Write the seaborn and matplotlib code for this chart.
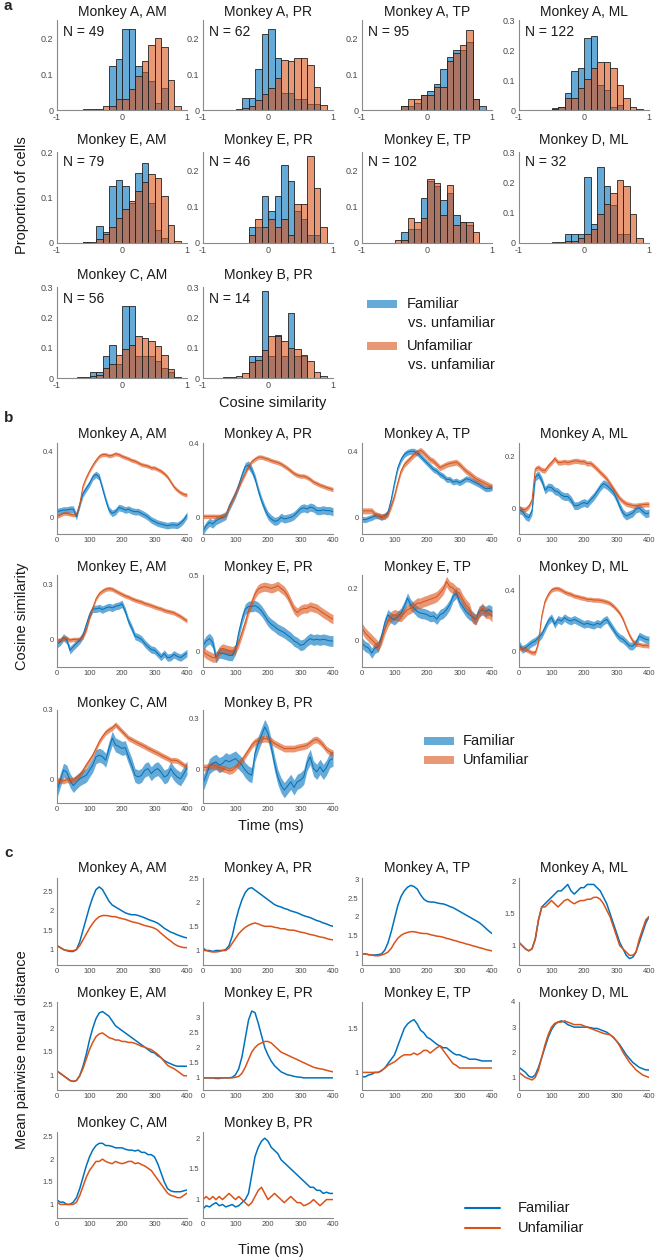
import numpy as np
import matplotlib
matplotlib.use("Agg")
import matplotlib.pyplot as plt
import seaborn as sns
from matplotlib.patches import Rectangle
from matplotlib.lines import Line2D

sns.set_theme(style="white")
plt.rcParams["font.family"] = ["Liberation Sans", "DejaVu Sans"]
plt.rcParams["axes.unicode_minus"] = False

# ------------------------------------------------------------------ data
titles_row = [["Monkey A, AM", "Monkey A, PR", "Monkey A, TP", "Monkey A, ML"],
              ["Monkey E, AM", "Monkey E, PR", "Monkey E, TP", "Monkey D, ML"],
              ["Monkey C, AM", "Monkey B, PR"]]
n_cells = [[49, 62, 95, 122], [79, 46, 102, 32], [56, 14]]

# histogram bins: left edges -1.0 ... 0.9 (width 0.1)
hist_edges = [-1.0, -0.9, -0.8, -0.7, -0.6, -0.5, -0.4, -0.3, -0.2, -0.1, 0.0,
              0.1, 0.2, 0.3, 0.4, 0.5, 0.6, 0.7, 0.8, 0.9, 1.0]

h_A_AM_fam = [0, 0, 0, 0, 0, 0, 0, 0, .123, .143, .225, .225, .122, .105, .08, .02, .06, 0, 0, 0]
h_A_AM_unf = [0, 0, 0, 0, .002, .002, .004, .01, .01, .03, .03, .058, .094, .135, .18, .2, .175, .083, .011, 0]
h_A_PR_fam = [0, 0, 0, 0, 0, 0, .032, .032, .113, .21, .226, .145, .048, .048, .03, .03, .016, .016, 0, 0]
h_A_PR_unf = [0, 0, 0, 0, 0, .003, .005, .01, .028, .044, .062, .09, .139, .137, .145, .145, .124, .065, .014, 0]
h_A_TP_fam = [0, 0, 0, 0, 0, 0, .01, .01, .02, .042, .054, .073, .115, .148, .168, .168, .19, .03, .01, 0]
h_A_TP_unf = [0, 0, 0, 0, 0, 0, .01, .03, .03, .042, .042, .063, .063, .137, .157, .18, .222, .03, 0, 0]
h_A_ML_fam = [0, 0, 0, 0, 0, .006, .01, .056, .13, .14, .24, .247, .083, .067, .01, .017, 0, 0, 0, 0]
h_A_ML_unf = [0, 0, 0, 0, 0, .004, .01, .04, .04, .075, .103, .14, .16, .16, .14, .085, .04, .011, .002, 0]
h_E_AM_fam = [0, 0, 0, 0, .002, 0, .038, .024, .125, .138, .126, .087, .153, .176, .088, .028, .012, 0, 0, 0]
h_E_AM_unf = [0, 0, 0, 0, .002, .002, .009, .019, .035, .055, .074, .092, .115, .133, .151, .142, .103, .039, .004, 0]
h_E_PR_fam = [0, 0, 0, 0, 0, 0, 0, .044, .044, .13, .089, .13, .214, .171, .088, .065, .023, .023, 0, 0]
h_E_PR_unf = [0, 0, 0, 0, 0, 0, 0, .021, .065, .044, .065, .044, .065, .023, .107, .107, .238, .15, .044, 0]
h_E_TP_fam = [0, 0, 0, 0, 0, 0, .029, .038, .038, .125, .171, .156, .118, .138, .077, .059, .05, 0, 0, 0]
h_E_TP_unf = [0, 0, 0, 0, 0, .009, .009, .068, .059, .068, .177, .166, .077, .159, .05, .059, .059, .029, 0, 0]
h_D_ML_fam = [0, 0, 0, 0, 0, 0, 0, .031, .031, .031, .218, .063, .25, .188, .125, .031, .031, 0, 0, 0]
h_D_ML_unf = [0, 0, 0, 0, 0, .002, .002, .005, .005, .016, .031, .047, .097, .13, .165, .207, .188, .094, .016, 0]
h_C_AM_fam = [0, 0, 0, 0, 0, .019, .019, .071, .11, .047, .236, .236, .074, .074, .074, .055, .033, .02, 0, 0]
h_C_AM_unf = [0, 0, 0, .002, .002, .008, .011, .032, .047, .077, .097, .11, .137, .132, .121, .104, .077, .03, .003, 0]
h_B_PR_fam = [0, 0, 0, 0, 0, 0, 0, .071, .071, .286, .071, .143, .071, .214, .071, .071, 0, 0, 0, 0]
h_B_PR_unf = [0, 0, 0, .002, .003, .007, .016, .052, .06, .091, .14, .14, .121, .099, .097, .077, .055, .019, .005, 0]

hist_fam = [[h_A_AM_fam, h_A_PR_fam, h_A_TP_fam, h_A_ML_fam],
            [h_E_AM_fam, h_E_PR_fam, h_E_TP_fam, h_D_ML_fam],
            [h_C_AM_fam, h_B_PR_fam]]
hist_unf = [[h_A_AM_unf, h_A_PR_unf, h_A_TP_unf, h_A_ML_unf],
            [h_E_AM_unf, h_E_PR_unf, h_E_TP_unf, h_D_ML_unf],
            [h_C_AM_unf, h_B_PR_unf]]
hist_ymax = [[0.25, 0.25, 0.25, 0.3], [0.2, 0.25, 0.25, 0.3], [0.3, 0.3]]
hist_yticks = [[[0, 0.1, 0.2]] * 3 + [[0, 0.1, 0.2, 0.3]],
               [[0, 0.1, 0.2]] * 3 + [[0, 0.1, 0.2, 0.3]],
               [[0, 0.1, 0.2, 0.3]] * 2]

# time axis (ms)
time_ms = list(range(0, 401, 10))

# ---- panel b: cosine similarity time courses
b_A_AM_fam = [.035, .04, .045, .045, .05, .05, .005, .08, .145, .175, .205, .245, .26, .245, .175, .105, .045, .025, .035, .06, .055, .045, .05, .04, .035, .035, .025, .015, .002, -.015, -.025, -.035, -.04, -.045, -.05, -.045, -.045, -.048, -.035, -.015, .015]
b_A_AM_unf = [.005, .015, .025, .025, .02, .015, .02, .08, .19, .24, .28, .315, .345, .37, .38, .38, .372, .376, .385, .38, .37, .362, .355, .345, .34, .33, .32, .315, .31, .3, .3, .29, .28, .265, .245, .215, .185, .165, .15, .14, .135]
b_A_PR_fam = [-.073, -.045, -.027, -.036, -.018, -.009, 0, .009, .055, .09, .127, .173, .227, .273, .282, .255, .21, .145, .09, .045, .009, -.009, -.022, -.018, 0, -.009, -.005, 0, .009, .027, .045, .051, .045, .055, .05, .036, .036, .04, .036, .036, .03]
b_A_PR_unf = [.005, .005, .005, .005, .005, .005, .005, .01, .055, .09, .127, .164, .2, .236, .273, .3, .313, .324, .324, .318, .313, .305, .3, .295, .287, .276, .264, .25, .236, .227, .222, .222, .215, .204, .19, .182, .173, .167, .16, .155, .149]
b_A_TP_fam = [-.01, -.014, -.006, 0, .01, .01, 0, .01, .03, .11, .21, .3, .35, .38, .394, .4, .4, .39, .37, .35, .33, .31, .29, .28, .26, .25, .23, .23, .214, .22, .21, .22, .234, .23, .22, .21, .2, .186, .174, .174, .18]
b_A_TP_unf = [.04, .04, .04, .04, .02, .01, .006, .006, .02, .07, .13, .21, .28, .32, .34, .36, .38, .394, .406, .39, .37, .35, .34, .32, .3, .31, .32, .326, .33, .334, .32, .3, .28, .266, .25, .234, .224, .214, .204, .194, .186]
b_A_ML_fam = [-.006, -.0125, -.031, -.037, -.012, .119, .129, .106, .069, .081, .079, .066, .062, .05, .044, .044, .031, .009, .009, .016, .021, .016, .031, .044, .062, .081, .094, .087, .075, .062, .037, .006, -.019, -.031, -.025, -.019, -.004, 0, -.012, -.022, -.019]
b_A_ML_unf = [0, -.006, -.006, .006, .03, .15, .156, .146, .144, .162, .175, .19, .175, .175, .178, .175, .178, .181, .181, .178, .178, .171, .172, .162, .15, .137, .125, .112, .094, .075, .056, .037, .025, .016, .0125, .009, .009, .011, .0125, .014, .014]
b_E_AM_fam = [-.026, -.013, .011, -.004, -.059, -.04, -.022, -.004, .024, .079, .134, .166, .166, .171, .162, .171, .177, .171, .18, .184, .193, .153, .098, .061, .018, .011, 0, -.022, -.04, -.055, -.059, -.077, -.096, -.077, -.099, -.096, -.081, -.092, -.099, -.087, -.074]
b_E_AM_unf = [-.004, -.004, .006, .006, -.004, 0, 0, 0, .015, .052, .116, .171, .221, .249, .263, .273, .276, .273, .263, .254, .245, .236, .23, .221, .214, .208, .203, .195, .19, .184, .177, .171, .166, .158, .153, .149, .144, .134, .125, .112, .101]
b_E_PR_fam = [.037, .07, .085, .059, -.039, -.007, -.011, -.017, -.024, -.024, .015, .124, .212, .277, .295, .295, .3, .288, .266, .234, .2, .179, .164, .146, .135, .124, .107, .092, .07, .059, .041, .048, .07, .085, .076, .081, .076, .081, .076, .07, .07]
b_E_PR_unf = [.004, -.017, -.028, -.039, -.039, .004, .022, .015, .009, .004, .015, .059, .124, .19, .266, .321, .376, .408, .419, .424, .419, .413, .419, .43, .413, .397, .365, .321, .277, .255, .273, .282, .282, .295, .288, .282, .266, .251, .238, .223, .212]
b_E_TP_fam = [-.009, -.022, -.028, -.047, -.028, -.022, .016, .067, .099, .086, .08, .092, .105, .13, .162, .137, .124, .111, .105, .103, .099, .092, .094, .082, .099, .105, .118, .137, .168, .181, .149, .13, .111, .099, .092, .08, .111, .118, .111, .118, .111]
b_E_TP_unf = [.048, .029, .016, .004, -.009, -.022, .004, .042, .073, .092, .099, .095, .092, .105, .118, .124, .133, .143, .143, .149, .153, .158, .162, .168, .181, .196, .225, .206, .2, .187, .181, .156, .137, .124, .086, .08, .105, .124, .105, .105, .092]
b_D_ML_fam = [.048, .015, .026, .043, .059, .07, .091, .113, .157, .2, .222, .178, .211, .2, .222, .207, .2, .211, .2, .189, .178, .185, .178, .172, .185, .178, .2, .211, .178, .146, .113, .091, .08, .059, .037, .037, .059, .102, .091, .08, .076]
b_D_ML_unf = [.022, .022, .015, .004, -.007, -.007, .06, .233, .33, .374, .402, .411, .411, .402, .389, .38, .374, .363, .359, .352, .348, .341, .341, .337, .337, .335, .33, .324, .315, .298, .276, .25, .211, .157, .107, .07, .048, .048, .041, .041, .037]
b_C_AM_fam = [-.047, -.003, .041, .033, -.003, -.025, -.01, .004, .012, .019, .041, .063, .099, .106, .099, .084, .135, .179, .15, .143, .135, .138, .099, .063, .019, .012, .019, .041, .048, .026, .041, .048, .033, .012, .019, .048, .026, .012, .004, .026, .052]
b_C_AM_unf = [-.003, -.003, -.006, 0, -.003, 0, .009, .019, .041, .063, .084, .106, .135, .164, .186, .204, .215, .223, .237, .223, .208, .194, .179, .172, .164, .157, .15, .143, .135, .128, .121, .114, .106, .099, .092, .084, .084, .082, .073, .063, .055]
b_B_PR_fam = [-.085, -.036, .018, .034, .043, .024, .034, .053, .043, .053, .063, .043, .024, -.006, -.026, -.036, .093, .152, .201, .25, .211, .132, .034, -.045, -.095, -.124, -.1, -.075, -.108, -.075, -.065, -.045, .034, .073, .004, -.016, .014, -.016, .01, .053, .063]
b_B_PR_unf = [.01, .01, .018, .024, .018, .01, .004, -.002, -.01, -.006, .01, .034, .053, .083, .112, .142, .162, .172, .178, .181, .178, .168, .152, .142, .132, .122, .122, .122, .122, .128, .132, .136, .142, .156, .172, .176, .162, .142, .116, .103, .093]

b_fam = [[b_A_AM_fam, b_A_PR_fam, b_A_TP_fam, b_A_ML_fam],
         [b_E_AM_fam, b_E_PR_fam, b_E_TP_fam, b_D_ML_fam],
         [b_C_AM_fam, b_B_PR_fam]]
b_unf = [[b_A_AM_unf, b_A_PR_unf, b_A_TP_unf, b_A_ML_unf],
         [b_E_AM_unf, b_E_PR_unf, b_E_TP_unf, b_D_ML_unf],
         [b_C_AM_unf, b_B_PR_unf]]
# s.e.m. half-widths of the shaded bands
b_sem_fam = [[0.02, 0.022, 0.018, 0.015], [0.02, 0.035, 0.02, 0.025], [0.03, 0.045]]
b_sem_unf = [[0.012, 0.012, 0.018, 0.01], [0.012, 0.03, 0.02, 0.015], [0.012, 0.02]]
b_ylim = [[(-0.1, 0.45), (-0.09, 0.4), (-0.1, 0.45), (-0.1, 0.25)],
          [(-0.15, 0.35), (-0.1, 0.5), (-0.1, 0.25), (-0.1, 0.5)],
          [(-0.1, 0.3), (-0.2, 0.35)]]
b_yticks = [[[0, 0.4], [0, 0.4], [0, 0.4], [0, 0.2]],
            [[0, 0.3], [0, 0.5], [0, 0.2], [0, 0.4]],
            [[0, 0.3], [0, 0.3]]]

# ---- panel c: mean pairwise neural distance
c_A_AM_fam = [1.1, 1.05, 1.0, .97, .95, .95, 1.0, 1.2, 1.5, 1.8, 2.1, 2.35, 2.55, 2.62, 2.55, 2.4, 2.25, 2.15, 2.1, 2.05, 2.0, 1.95, 1.92, 1.9, 1.9, 1.88, 1.85, 1.82, 1.78, 1.75, 1.72, 1.68, 1.62, 1.55, 1.5, 1.45, 1.42, 1.38, 1.35, 1.32, 1.3]
c_A_AM_unf = [1.1, 1.05, 1.0, .98, .97, .97, 1.0, 1.1, 1.25, 1.4, 1.55, 1.68, 1.78, 1.85, 1.88, 1.88, 1.87, 1.85, 1.85, 1.82, 1.8, 1.78, 1.75, 1.72, 1.7, 1.68, 1.65, 1.62, 1.6, 1.58, 1.55, 1.5, 1.42, 1.35, 1.28, 1.22, 1.15, 1.1, 1.07, 1.05, 1.05]
c_A_PR_fam = [1.05, 1.0, 1.0, .98, 1.0, 1.0, 1.0, 1.02, 1.1, 1.3, 1.6, 1.85, 2.05, 2.2, 2.28, 2.3, 2.25, 2.2, 2.15, 2.1, 2.05, 2.0, 1.95, 1.92, 1.9, 1.87, 1.85, 1.82, 1.8, 1.78, 1.75, 1.72, 1.7, 1.68, 1.65, 1.62, 1.6, 1.57, 1.55, 1.52, 1.5]
c_A_PR_unf = [1.0, 1.0, .98, .97, .97, .98, 1.0, 1.0, 1.05, 1.15, 1.25, 1.35, 1.42, 1.48, 1.52, 1.55, 1.57, 1.55, 1.52, 1.5, 1.5, 1.5, 1.48, 1.47, 1.45, 1.45, 1.43, 1.42, 1.42, 1.4, 1.38, 1.37, 1.35, 1.33, 1.32, 1.3, 1.28, 1.27, 1.25, 1.23, 1.22]
c_A_TP_fam = [1.0, 1.0, .98, .97, .97, .98, 1.0, 1.1, 1.3, 1.6, 1.95, 2.3, 2.55, 2.7, 2.8, 2.85, 2.82, 2.75, 2.6, 2.48, 2.42, 2.4, 2.4, 2.38, 2.36, 2.35, 2.32, 2.28, 2.25, 2.2, 2.15, 2.1, 2.05, 2.0, 1.95, 1.9, 1.85, 1.78, 1.7, 1.62, 1.55]
c_A_TP_unf = [1.0, 1.0, .98, .97, .95, .95, .97, 1.0, 1.05, 1.15, 1.3, 1.42, 1.5, 1.55, 1.58, 1.6, 1.6, 1.58, 1.56, 1.55, 1.55, 1.52, 1.5, 1.48, 1.47, 1.45, 1.42, 1.4, 1.37, 1.35, 1.32, 1.3, 1.27, 1.25, 1.22, 1.2, 1.17, 1.15, 1.12, 1.1, 1.08]
c_A_ML_fam = [1.05, 1.0, .95, .92, .95, 1.1, 1.4, 1.6, 1.65, 1.7, 1.75, 1.8, 1.85, 1.85, 1.9, 1.95, 1.85, 1.8, 1.85, 1.9, 1.9, 1.95, 1.95, 1.95, 1.9, 1.85, 1.75, 1.65, 1.5, 1.35, 1.2, 1.05, .95, .85, .8, .82, .9, 1.05, 1.2, 1.35, 1.45]
c_A_ML_unf = [1.05, 1.0, .95, .92, .95, 1.1, 1.4, 1.6, 1.6, 1.65, 1.7, 1.65, 1.6, 1.65, 1.7, 1.72, 1.68, 1.65, 1.68, 1.7, 1.7, 1.72, 1.72, 1.75, 1.75, 1.72, 1.65, 1.55, 1.45, 1.3, 1.15, 1.0, .95, .9, .85, .85, .9, 1.1, 1.25, 1.4, 1.45]
c_E_AM_fam = [1.1, 1.05, 1.0, .95, .9, .88, .9, 1.0, 1.2, 1.45, 1.75, 2.0, 2.2, 2.32, 2.35, 2.3, 2.25, 2.15, 2.05, 2.0, 1.95, 1.9, 1.85, 1.8, 1.75, 1.7, 1.65, 1.6, 1.55, 1.5, 1.48, 1.42, 1.38, 1.32, 1.28, 1.25, 1.22, 1.2, 1.2, 1.2, 1.2]
c_E_AM_unf = [1.1, 1.05, 1.0, .95, .9, .88, .9, 1.0, 1.15, 1.35, 1.55, 1.7, 1.82, 1.88, 1.9, 1.85, 1.8, 1.78, 1.75, 1.75, 1.72, 1.72, 1.7, 1.7, 1.68, 1.65, 1.62, 1.6, 1.57, 1.55, 1.5, 1.45, 1.38, 1.3, 1.22, 1.18, 1.15, 1.1, 1.05, 1.0, 1.0]
c_E_PR_fam = [1.0, 1.0, 1.0, 1.0, .98, .98, 1.0, 1.0, 1.0, 1.02, 1.1, 1.3, 1.7, 2.3, 2.9, 3.2, 3.15, 2.8, 2.4, 2.0, 1.75, 1.55, 1.4, 1.3, 1.2, 1.15, 1.1, 1.08, 1.05, 1.03, 1.02, 1.0, 1.0, 1.0, 1.0, 1.0, 1.0, 1.0, 1.0, 1.0, 1.0]
c_E_PR_unf = [1.0, 1.0, 1.0, 1.0, 1.0, 1.0, 1.0, 1.0, 1.0, 1.0, 1.02, 1.05, 1.15, 1.35, 1.6, 1.85, 2.0, 2.1, 2.15, 2.2, 2.2, 2.15, 2.05, 1.95, 1.85, 1.8, 1.75, 1.7, 1.65, 1.6, 1.55, 1.5, 1.45, 1.4, 1.35, 1.32, 1.3, 1.28, 1.25, 1.22, 1.2]
c_E_TP_fam = [.95, .95, .97, .98, 1.0, 1.0, 1.02, 1.05, 1.1, 1.15, 1.2, 1.3, 1.4, 1.5, 1.55, 1.58, 1.6, 1.55, 1.48, 1.45, 1.4, 1.38, 1.35, 1.32, 1.3, 1.28, 1.28, 1.25, 1.22, 1.2, 1.2, 1.18, 1.17, 1.15, 1.15, 1.15, 1.14, 1.13, 1.13, 1.13, 1.13]
c_E_TP_unf = [1.0, 1.0, 1.0, 1.0, 1.0, 1.0, 1.02, 1.05, 1.08, 1.1, 1.12, 1.15, 1.18, 1.2, 1.2, 1.2, 1.22, 1.2, 1.22, 1.25, 1.25, 1.22, 1.25, 1.28, 1.3, 1.25, 1.2, 1.15, 1.1, 1.08, 1.05, 1.05, 1.05, 1.05, 1.05, 1.05, 1.05, 1.05, 1.05, 1.05, 1.05]
c_D_ML_fam = [1.4, 1.3, 1.2, 1.05, 1.0, 1.1, 1.4, 1.8, 2.2, 2.6, 2.9, 3.1, 3.2, 3.25, 3.2, 3.1, 3.05, 3.0, 3.0, 3.0, 3.0, 3.0, 2.98, 2.95, 2.95, 2.9, 2.85, 2.8, 2.7, 2.6, 2.45, 2.3, 2.1, 1.9, 1.75, 1.6, 1.5, 1.4, 1.35, 1.3, 1.3]
c_D_ML_unf = [1.2, 1.1, 1.0, .95, .9, 1.0, 1.3, 1.8, 2.3, 2.7, 3.0, 3.15, 3.2, 3.2, 3.25, 3.2, 3.15, 3.1, 3.1, 3.1, 3.05, 3.0, 2.95, 2.9, 2.85, 2.8, 2.75, 2.72, 2.7, 2.6, 2.45, 2.25, 2.0, 1.8, 1.6, 1.45, 1.3, 1.2, 1.1, 1.05, 1.0]
c_C_AM_fam = [1.1, 1.05, 1.05, 1.0, 1.0, 1.05, 1.15, 1.35, 1.6, 1.85, 2.05, 2.2, 2.3, 2.35, 2.35, 2.3, 2.3, 2.28, 2.25, 2.25, 2.25, 2.22, 2.2, 2.2, 2.18, 2.2, 2.15, 2.15, 2.1, 2.1, 2.05, 1.9, 1.7, 1.5, 1.35, 1.3, 1.28, 1.28, 1.28, 1.3, 1.32]
c_C_AM_unf = [1.05, 1.0, 1.0, 1.0, 1.0, 1.0, 1.05, 1.2, 1.4, 1.6, 1.75, 1.85, 1.95, 1.95, 2.0, 1.95, 1.92, 1.9, 1.95, 1.92, 1.9, 1.92, 1.95, 1.95, 1.9, 1.92, 1.88, 1.85, 1.8, 1.75, 1.65, 1.55, 1.45, 1.35, 1.25, 1.2, 1.18, 1.15, 1.15, 1.2, 1.25]
c_B_PR_fam = [.85, .9, .88, .92, .95, .9, .92, .88, .9, .92, .88, .9, .95, 1.0, 1.1, 1.4, 1.7, 1.85, 1.95, 2.0, 1.95, 1.85, 1.8, 1.75, 1.65, 1.6, 1.55, 1.5, 1.45, 1.4, 1.35, 1.3, 1.25, 1.2, 1.2, 1.15, 1.15, 1.1, 1.12, 1.1, 1.1]
c_B_PR_unf = [1.0, 1.05, 1.0, 1.05, 1.0, 1.05, 1.0, 1.05, 1.1, 1.05, 1.0, 1.05, 1.0, .95, .9, .95, 1.05, 1.15, 1.2, 1.1, 1.0, 1.05, 1.1, 1.05, 1.0, .95, 1.0, 1.05, 1.0, .95, .95, .9, .92, .95, 1.0, .95, .9, .95, 1.0, 1.0, 1.0]

c_fam = [[c_A_AM_fam, c_A_PR_fam, c_A_TP_fam, c_A_ML_fam],
         [c_E_AM_fam, c_E_PR_fam, c_E_TP_fam, c_D_ML_fam],
         [c_C_AM_fam, c_B_PR_fam]]
c_unf = [[c_A_AM_unf, c_A_PR_unf, c_A_TP_unf, c_A_ML_unf],
         [c_E_AM_unf, c_E_PR_unf, c_E_TP_unf, c_D_ML_unf],
         [c_C_AM_unf, c_B_PR_unf]]
c_ylim = [[(0.6, 2.85), (0.7, 2.5), (0.7, 3.05), (0.7, 2.05)],
          [(0.7, 2.55), (0.6, 3.5), (0.8, 1.8), (0.5, 4.0)],
          [(0.7, 2.6), (0.7, 2.1)]]
c_yticks = [[[1, 1.5, 2, 2.5], [1, 1.5, 2, 2.5], [1, 1.5, 2, 2.5, 3], [1, 1.5, 2]],
            [[1, 1.5, 2, 2.5], [1, 1.5, 2, 2.5, 3], [1, 1.5], [1, 2, 3, 4]],
            [[1, 1.5, 2, 2.5], [1, 1.5, 2]]]
time_ticks = [0, 100, 200, 300, 400]
hist_xticks = [-1, 0, 1]

# ------------------------------------------------------------------ style
BLUE = "#0072BD"
ORANGE = "#D95319"
SPINE = "#8a8a8a"
TICKC = "#4a4a4a"
TXT = "#1a1a1a"
W, H = 658, 1260
fig = plt.figure(figsize=(W / 100, H / 100), dpi=100)
fig.patch.set_facecolor("white")

col_x = [57, 203, 362, 519]
col_w = 130


def add_ax(x0, y0, x1, y1):
    return fig.add_axes([x0 / W, 1 - y1 / H, (x1 - x0) / W, (y1 - y0) / H])


def style(ax, fs):
    sns.despine(ax=ax)
    for s in ("left", "bottom"):
        ax.spines[s].set_color(SPINE)
        ax.spines[s].set_linewidth(0.8)
    ax.tick_params(direction="in", length=2.5, width=0.6, color=SPINE,
                   labelsize=fs, labelcolor=TICKC, pad=2.5)
    ax.set_facecolor("white")
    ax.grid(False)
    ax.set_xlabel("")
    ax.set_ylabel("")


def fmt(v):
    return ("%g" % v)


def ftext(x, y, s, **kw):
    fig.text(x / W, 1 - y / H, s, **kw)


# ------------------------------------------------------------------ panel a
a_rows = [(20, 110), (152, 243), (287, 378)]
a_title_y = [12, 140, 275]
a_n_dy = [12, 10, 12]
centers = [(hist_edges[i] + hist_edges[i + 1]) / 2 for i in range(len(hist_edges) - 1)]
for r, (y0, y1) in enumerate(a_rows):
    for c in range(len(titles_row[r])):
        ax = add_ax(col_x[c], y0, col_x[c] + col_w, y1)
        for vals, colr in ((hist_fam[r][c], BLUE), (hist_unf[r][c], ORANGE)):
            sns.histplot(x=centers, weights=vals, bins=hist_edges, color=colr,
                         alpha=0.6, edgecolor="#222222", linewidth=0.6, ax=ax)
        for p in ax.patches:
            if p.get_height() <= 0:
                p.set_visible(False)
        ax.set_xlim(-1, 1)
        ax.set_ylim(0, hist_ymax[r][c])
        ax.set_xticks(hist_xticks)
        ax.set_xticklabels([fmt(v) for v in hist_xticks])
        yt = hist_yticks[r][c]
        ax.set_yticks(yt)
        ax.set_yticklabels([fmt(v) for v in yt])
        style(ax, 6.5)
        ftext(col_x[c] + col_w / 2, a_title_y[r], titles_row[r][c],
              ha="center", va="center", fontsize=10, color=TXT)
        ftext(col_x[c] + 6, y0 + a_n_dy[r], "N = %d" % n_cells[r][c],
              ha="left", va="center", fontsize=10, color=TXT)

ftext(4, 6, "a", fontsize=11, fontweight="bold", ha="left", va="center")
ftext(22, 195, "Proportion of cells", rotation=90, ha="center", va="center",
      fontsize=10.5, color=TXT)
ftext(273, 403, "Cosine similarity", ha="center", va="center", fontsize=10.5,
      color=TXT)

# legend a
for yy, colr, l1 in ((304, BLUE, "Familiar"), (346, ORANGE, "Unfamiliar")):
    fig.add_artist(Rectangle((367 / W, 1 - (yy + 4) / H), 30 / W, 8 / H,
                             transform=fig.transFigure, facecolor=colr,
                             alpha=0.6, edgecolor="none"))
    ftext(407, yy, l1, ha="left", va="center", fontsize=10.5, color=TXT)
    ftext(408, yy + 19, "vs. unfamiliar", ha="left", va="center",
          fontsize=10.5, color=TXT)

# ------------------------------------------------------------------ panel b
b_rows = [(443, 534), (575, 667), (710, 803)]
b_title_y = [434, 567, 703]
t = np.array(time_ms)
for r, (y0, y1) in enumerate(b_rows):
    for c in range(len(titles_row[r])):
        ax = add_ax(col_x[c], y0, col_x[c] + col_w, y1)
        for vals, sem, colr in ((b_fam[r][c], b_sem_fam[r][c], BLUE),
                                (b_unf[r][c], b_sem_unf[r][c], ORANGE)):
            v = np.array(vals)
            ax.fill_between(t, v - sem, v + sem, color=colr, alpha=0.6,
                            linewidth=0)
            sns.lineplot(x=t, y=v, color=colr, linewidth=0.7, ax=ax)
        ax.set_xlim(0, 400)
        ax.set_ylim(*b_ylim[r][c])
        ax.set_xticks(time_ticks)
        ax.set_xticklabels([fmt(v) for v in time_ticks])
        yt = b_yticks[r][c]
        ax.set_yticks(yt)
        ax.set_yticklabels([fmt(v) for v in yt])
        style(ax, 5.5)
        ftext(col_x[c] + col_w / 2, b_title_y[r], titles_row[r][c],
              ha="center", va="center", fontsize=10, color=TXT)

ftext(4, 418, "b", fontsize=11, fontweight="bold", ha="left", va="center")
ftext(22, 616, "Cosine similarity", rotation=90, ha="center", va="center",
      fontsize=10.5, color=TXT)
ftext(271, 826, "Time (ms)", ha="center", va="center", fontsize=10.5,
      color=TXT)
for yy, colr, lab in ((741, BLUE, "Familiar"), (760, ORANGE, "Unfamiliar")):
    fig.add_artist(Rectangle((424 / W, 1 - (yy + 4) / H), 30 / W, 8 / H,
                             transform=fig.transFigure, facecolor=colr,
                             alpha=0.6, edgecolor="none"))
    ftext(463, yy, lab, ha="left", va="center", fontsize=10.5, color=TXT)

# ------------------------------------------------------------------ panel c
c_rows = [(878, 965), (1002, 1090), (1132, 1218)]
c_title_y = [868, 993, 1123]
for r, (y0, y1) in enumerate(c_rows):
    for c in range(len(titles_row[r])):
        ax = add_ax(col_x[c], y0, col_x[c] + col_w, y1)
        sns.lineplot(x=t, y=np.array(c_fam[r][c]), color=BLUE, linewidth=1.1, ax=ax)
        sns.lineplot(x=t, y=np.array(c_unf[r][c]), color=ORANGE, linewidth=1.1, ax=ax)
        ax.set_xlim(0, 400)
        ax.set_ylim(*c_ylim[r][c])
        ax.set_xticks(time_ticks)
        ax.set_xticklabels([fmt(v) for v in time_ticks])
        yt = c_yticks[r][c]
        ax.set_yticks(yt)
        ax.set_yticklabels([fmt(v) for v in yt])
        style(ax, 5.5)
        ftext(col_x[c] + col_w / 2, c_title_y[r], titles_row[r][c],
              ha="center", va="center", fontsize=10, color=TXT)

ftext(4, 853, "c", fontsize=11, fontweight="bold", ha="left", va="center")
ftext(22, 1050, "Mean pairwise neural distance", rotation=90, ha="center",
      va="center", fontsize=10.5, color=TXT)
ftext(271, 1250, "Time (ms)", ha="center", va="center", fontsize=10.5,
      color=TXT)
for yy, colr, lab in ((1208, BLUE, "Familiar"), (1228, ORANGE, "Unfamiliar")):
    fig.add_artist(Line2D([465 / W, 500 / W], [1 - yy / H, 1 - yy / H],
                          transform=fig.transFigure, color=colr, linewidth=1.5))
    ftext(518, yy, lab, ha="left", va="center", fontsize=10.5, color=TXT)

fig.savefig("out.png", dpi=100, facecolor="white")
